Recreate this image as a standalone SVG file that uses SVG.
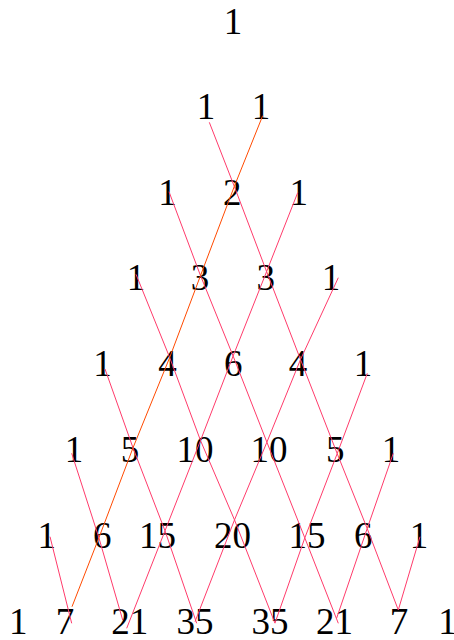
<svg xmlns="http://www.w3.org/2000/svg" width="454" height="640" viewBox="0 0 454 640">
<style>
text{font-family:"Liberation Serif","Times New Roman",serif;font-size:37px;fill:#000;text-anchor:middle}
.c line{stroke:#ff3b6b;stroke-width:1;fill:none}
.c line.o{stroke:#ff4a00}
</style>
<rect width="454" height="640" fill="#fff"/>
<g id="r0k0"><text x="233" y="33.5">1</text></g>
<g id="r1k0"><text x="206" y="118.5">1</text></g>
<g id="r1k1"><text x="261" y="118.5">1</text></g>
<g id="r2k0"><text x="167.5" y="204.5">1</text></g>
<g id="r2k1"><text x="232.3" y="204.5">2</text></g>
<g id="r2k2"><text x="298.7" y="204.5">1</text></g>
<g id="r3k0"><text x="136" y="290">1</text></g>
<g id="r3k1"><text x="200" y="290">3</text></g>
<g id="r3k2"><text x="265.7" y="290">3</text></g>
<g id="r3k3"><text x="331" y="290">1</text></g>
<g id="r4k0"><text x="102.5" y="376">1</text></g>
<g id="r4k1"><text x="167.5" y="376">4</text></g>
<g id="r4k2"><text x="233.3" y="376">6</text></g>
<g id="r4k3"><text x="298" y="376">4</text></g>
<g id="r4k4"><text x="363" y="376">1</text></g>
<g id="r5k0"><text x="74" y="462">1</text></g>
<g id="r5k1"><text x="130" y="462">5</text></g>
<g id="r5k2"><text x="195.1" y="462">10</text></g>
<g id="r5k3"><text x="268.9" y="462">10</text></g>
<g id="r5k4"><text x="335.3" y="462">5</text></g>
<g id="r5k5"><text x="391" y="462">1</text></g>
<g id="r6k0"><text x="46.7" y="548">1</text></g>
<g id="r6k1"><text x="102.3" y="548">6</text></g>
<g id="r6k2"><text x="157.4" y="548">15</text></g>
<g id="r6k3"><text x="232.5" y="548">20</text></g>
<g id="r6k4"><text x="306.9" y="548">15</text></g>
<g id="r6k5"><text x="363.3" y="548">6</text></g>
<g id="r6k6"><text x="419" y="548">1</text></g>
<g id="r7k0"><text x="18.3" y="633.5">1</text></g>
<g id="r7k1"><text x="65" y="633.5">7</text></g>
<g id="r7k2"><text x="129.7" y="633.5">21</text></g>
<g id="r7k3"><text x="195" y="633.5">35</text></g>
<g id="r7k4"><text x="270" y="633.5">35</text></g>
<g id="r7k5"><text x="334.4" y="633.5">21</text></g>
<g id="r7k6"><text x="399" y="633.5">7</text></g>
<g id="r7k7"><text x="447.5" y="633.5">1</text></g>
<g id="connectors" class="c">
<!-- down-right diagonals -->
<line x1="209.3" y1="122.3" x2="234.3" y2="186.4"/>
<line x1="234.3" y1="186.4" x2="266.6" y2="271.6"/>
<line x1="266.6" y1="271.6" x2="300.5" y2="359.5"/>
<line x1="300.5" y1="359.5" x2="337.2" y2="453.6"/>
<line x1="337.2" y1="453.6" x2="367.2" y2="528.5"/>
<line x1="367.2" y1="528.5" x2="398.3" y2="610"/>
<line x1="169" y1="191.7" x2="200.5" y2="275.6"/>
<line x1="200.5" y1="275.6" x2="233.1" y2="356"/>
<line x1="233.1" y1="356" x2="266.9" y2="442.2"/>
<line x1="266.9" y1="442.2" x2="304.8" y2="537.9"/>
<line x1="304.8" y1="537.9" x2="338.3" y2="623.3"/>
<line x1="136" y1="274.3" x2="169.7" y2="357.5"/>
<line x1="169.7" y1="357.5" x2="200.5" y2="440.5"/>
<line x1="200.5" y1="440.5" x2="234.5" y2="519.9"/>
<line x1="234.5" y1="519.9" x2="275" y2="623.3"/>
<line x1="105" y1="369" x2="133" y2="447.8"/>
<line x1="133" y1="447.8" x2="165" y2="530.8"/>
<line x1="165" y1="530.8" x2="196.7" y2="623.3"/>
<line x1="71.7" y1="453.3" x2="98.9" y2="537.8"/>
<line x1="98.9" y1="537.8" x2="122.7" y2="620"/>
<line x1="50" y1="536.7" x2="71.7" y2="623.3"/>
<!-- down-left diagonals -->
<line class="o" x1="262.7" y1="115.7" x2="234.3" y2="186.4"/>
<line class="o" x1="234.3" y1="186.4" x2="200.5" y2="275.6"/>
<line class="o" x1="200.5" y1="275.6" x2="169.7" y2="357.5"/>
<line class="o" x1="169.7" y1="357.5" x2="133" y2="447.8"/>
<line class="o" x1="133" y1="447.8" x2="98.9" y2="537.8"/>
<line class="o" x1="98.9" y1="537.8" x2="72" y2="606.7"/>
<line x1="297.7" y1="192.7" x2="266.6" y2="271.6"/>
<line x1="266.6" y1="271.6" x2="233.1" y2="356"/>
<line x1="233.1" y1="356" x2="200.5" y2="440.5"/>
<line x1="200.5" y1="440.5" x2="165" y2="530.8"/>
<line x1="165" y1="530.8" x2="126.7" y2="628.3"/>
<line x1="338.3" y1="277.7" x2="300.5" y2="359.5"/>
<line x1="300.5" y1="359.5" x2="266.9" y2="442.2"/>
<line x1="266.9" y1="442.2" x2="234.5" y2="519.9"/>
<line x1="234.5" y1="519.9" x2="195" y2="621.7"/>
<line x1="367.3" y1="373.3" x2="337.2" y2="453.6"/>
<line x1="337.2" y1="453.6" x2="304.8" y2="537.9"/>
<line x1="304.8" y1="537.9" x2="275" y2="623"/>
<line x1="393.3" y1="453.3" x2="367.2" y2="528.5"/>
<line x1="367.2" y1="528.5" x2="336.7" y2="618"/>
<line x1="420" y1="536.7" x2="398.3" y2="610"/>
</g>
</svg>
